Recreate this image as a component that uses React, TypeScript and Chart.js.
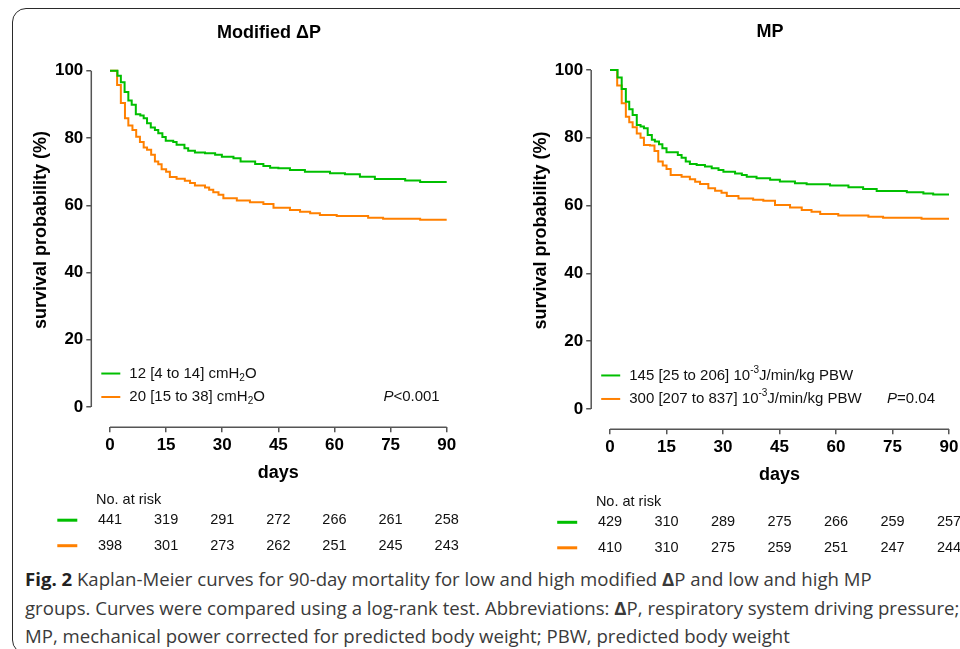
import React, { useEffect, useRef } from 'react';
import { Chart, registerables } from 'chart.js';

Chart.register(...registerables);

// ---------- data ----------
const riskDays = [0, 15, 30, 45, 60, 75, 90];
const yTickValues = [0, 20, 40, 60, 80, 100];

// Modified driving pressure, low group (green)
const dpLowDays = [0, 2, 2.9, 3.9, 4.9, 5.8, 6.9, 8.1, 9.0, 9.9, 10.9, 12.0, 12.9, 14.0, 14.9, 16.9, 17.8, 19.9, 20.9, 22.7, 25.4, 28.1, 29.9, 33.0, 34.9, 38.8, 41.0, 42.8, 45.0, 48.1, 52.1, 58.8, 62.8, 66.8, 70.8, 78.9, 82.9, 90];
const dpLowSurv = [100, 98.5, 96.6, 93.7, 91.2, 89.9, 87.1, 86.7, 85.9, 84.4, 83.1, 82.4, 81.4, 80.3, 79.2, 78.8, 78.0, 77.0, 76.2, 75.7, 75.5, 75.0, 74.4, 74.0, 73.0, 72.3, 71.7, 71.2, 71.0, 70.5, 70.0, 69.5, 69.2, 68.5, 67.8, 67.4, 66.9, 66.9];
// Modified driving pressure, high group (orange)
const dpHighDays = [0, 1.9, 2.9, 4.0, 4.9, 6.0, 7.0, 8.0, 9.0, 9.9, 11.0, 12.0, 12.9, 13.8, 15.0, 16.0, 17.8, 20.0, 21.4, 22.7, 25.4, 26.5, 27.6, 29.0, 30.3, 33.9, 37.4, 41.0, 43.7, 48.1, 50.8, 53.5, 56.1, 60.6, 69.0, 73.0, 82.9, 90];
const dpHighSurv = [100, 95.8, 90.4, 85.9, 83.7, 82.4, 80.4, 78.8, 77.2, 76.5, 75.0, 73.0, 72.2, 70.7, 70.0, 68.4, 67.9, 67.3, 66.6, 65.9, 65.3, 64.6, 63.9, 63.1, 62.1, 61.4, 60.9, 60.4, 59.3, 58.6, 58.1, 57.6, 57.1, 56.8, 56.3, 56.0, 55.7, 55.7];
// Mechanical power, low group (green)
const mpLowDays = [0, 2, 3.1, 4.2, 5.1, 6.0, 7.1, 8.1, 9.0, 10.0, 11.1, 11.9, 13.0, 13.9, 15.0, 18.0, 19.0, 20.1, 21.2, 23.0, 25.2, 27.0, 28.8, 30.1, 33.2, 35.0, 36.3, 38.9, 42.5, 45.1, 49.1, 52.2, 58.4, 63.3, 67.2, 70.8, 78.8, 83.2, 85.8, 90];
const mpLowSurv = [100, 97.8, 94.4, 90.6, 88.4, 86.7, 83.8, 83.3, 82.8, 80.8, 79.4, 78.9, 78.1, 76.9, 75.7, 74.9, 74.1, 73.0, 72.3, 72.0, 71.5, 71.0, 70.5, 70.0, 69.5, 69.0, 68.5, 68.1, 67.6, 67.1, 66.6, 66.3, 65.9, 65.4, 64.9, 64.3, 63.9, 63.6, 63.3, 63.3];
// Mechanical power, high group (orange)
const mpHighDays = [0, 1.9, 3.1, 4.2, 5.1, 6.0, 7.1, 8.1, 9.0, 10.6, 11.8, 12.8, 14.0, 15.0, 16.1, 19.0, 21.2, 22.6, 23.9, 26.1, 27.9, 29.6, 31.0, 34.1, 38.0, 40.7, 43.8, 47.8, 50.9, 53.5, 55.8, 60.6, 68.6, 72.5, 82.7, 90];
const mpHighSurv = [100, 95.4, 90.2, 86.2, 84.6, 83.1, 81.3, 80.0, 77.9, 77.7, 76.1, 73.0, 71.8, 70.8, 69.0, 68.5, 67.8, 67.0, 66.4, 65.1, 64.4, 63.8, 62.8, 62.1, 61.7, 61.4, 60.2, 59.4, 58.7, 58.2, 57.5, 57.1, 56.7, 56.4, 56.1, 56.1];

// numbers at risk
const dpRiskLow = [441, 319, 291, 272, 266, 261, 258];
const dpRiskHigh = [398, 301, 273, 262, 251, 245, 243];
const mpRiskLow = [429, 310, 289, 275, 266, 259, 257];
const mpRiskHigh = [410, 310, 275, 259, 251, 247, 244];

// legend labels (segments, with sub/superscripts)
const dpLegendLow = [{ t: '12 [4 to 14] cmH' }, { t: '2', sub: true }, { t: 'O' }];
const dpLegendHigh = [{ t: '20 [15 to 38] cmH' }, { t: '2', sub: true }, { t: 'O' }];
const mpLegendLow = [{ t: '145 [25 to 206] 10' }, { t: '-3', sup: true }, { t: 'J/min/kg PBW' }];
const mpLegendHigh = [{ t: '300 [207 to 837] 10' }, { t: '-3', sup: true }, { t: 'J/min/kg PBW' }];

const dpPValue = '<0.001';
const mpPValue = '=0.04';

// ---------- styles ----------
const GREEN = '#00bf00';
const ORANGE = '#ff8000';
const AXIS = '#555555';
const FONT = "'Liberation Sans', Arial, Helvetica, sans-serif";

function toPoints(days: number[], surv: number[]) {
  return days.map((d, i) => ({ x: d, y: surv[i] }));
}

function drawRich(ctx: any, parts: any[], x: number, y: number, size: number) {
  let cx = x;
  for (const p of parts) {
    if (p.sub || p.sup) {
      ctx.font = `${Math.round(size * 0.68)}px ${FONT}`;
      const dy = p.sub ? size * 0.3 : -size * 0.38;
      ctx.fillText(p.t, cx, y + dy);
      cx += ctx.measureText(p.t).width;
    } else {
      ctx.font = `${size}px ${FONT}`;
      ctx.fillText(p.t, cx, y);
      cx += ctx.measureText(p.t).width;
    }
  }
}

const panels = [
  {
    key: 'dp',
    title: 'Modified \u0394P',
    left: 12, top: 10, w: 460, h: 555,
    yWidth: 79.3, xHeight: 137.8, padRight: 25.3,
    titlePad: { top: 12, bottom: 27.2 },
    low: toPoints(dpLowDays, dpLowSurv),
    high: toPoints(dpHighDays, dpHighSurv),
    legend: [dpLegendLow, dpLegendHigh],
    p: dpPValue, pDx: -7,
    risk: [dpRiskLow, dpRiskHigh],
  },
  {
    key: 'mp',
    title: 'MP',
    left: 490, top: 10, w: 500, h: 555,
    yWidth: 101.2, xHeight: 135.7, padRight: 41,
    titlePad: { top: 11.5, bottom: 26.9 },
    low: toPoints(mpLowDays, mpLowSurv),
    high: toPoints(mpHighDays, mpHighSurv),
    legend: [mpLegendLow, mpLegendHigh],
    p: mpPValue, pDx: -14,
    risk: [mpRiskLow, mpRiskHigh],
  },
];

function Panel({ cfg }: { cfg: any }) {
  const ref = useRef<HTMLCanvasElement>(null);
  useEffect(() => {
    const canvas = ref.current as HTMLCanvasElement;
    const tickFont = { family: FONT, size: 17, weight: 'bold' as const };
    const decor = {
      id: 'decor',
      afterDraw(chart: any) {
        const ctx = chart.ctx;
        const xs = chart.scales.x;
        const ys = chart.scales.y;
        const ca = chart.chartArea;
        const x0 = xs.getPixelForValue(0);
        const x90 = xs.getPixelForValue(90);
        const y0 = ys.getPixelForValue(0);
        const y100 = ys.getPixelForValue(100);
        ctx.save();
        // axis lines (separated, Prism style)
        ctx.strokeStyle = AXIS;
        ctx.lineWidth = 1.5;
        ctx.beginPath();
        ctx.moveTo(ca.left, y100);
        ctx.lineTo(ca.left, y0);
        ctx.moveTo(x0, ca.bottom);
        ctx.lineTo(x90, ca.bottom);
        ctx.stroke();
        // axis titles
        ctx.fillStyle = '#000';
        ctx.font = `bold 18px ${FONT}`;
        ctx.textAlign = 'center';
        ctx.textBaseline = 'middle';
        ctx.save();
        ctx.translate(ca.left - 50, (y0 + y100) / 2 - 9);
        ctx.rotate(-Math.PI / 2);
        ctx.fillText('survival probability (%)', 0, 0);
        ctx.restore();
        ctx.fillText('days', (x0 + x90) / 2, ca.bottom + 46);
        // legend inside plot
        const colors = [GREEN, ORANGE];
        const rows = [y0 - 33.5, y0 - 10];
        ctx.textAlign = 'left';
        for (let i = 0; i < 2; i++) {
          ctx.strokeStyle = colors[i];
          ctx.lineWidth = 2;
          ctx.beginPath();
          ctx.moveTo(ca.left + 10, rows[i]);
          ctx.lineTo(ca.left + 29, rows[i]);
          ctx.stroke();
          ctx.fillStyle = '#111';
          drawRich(ctx, cfg.legend[i], ca.left + 38, rows[i], 15);
        }
        // P value
        ctx.font = `15px ${FONT}`;
        const restW = ctx.measureText(cfg.p).width;
        ctx.textAlign = 'right';
        ctx.fillText(cfg.p, x90 + cfg.pDx, rows[1]);
        ctx.font = `italic 15px ${FONT}`;
        ctx.fillText('P', x90 + cfg.pDx - restW, rows[1]);
        // numbers at risk
        ctx.textAlign = 'left';
        ctx.fillStyle = '#111';
        ctx.font = `14.5px ${FONT}`;
        ctx.fillText('No. at risk', ca.left + 4.7, ca.bottom + 72.5);
        const rrows = [ca.bottom + 93, ca.bottom + 118.5];
        for (let i = 0; i < 2; i++) {
          ctx.strokeStyle = colors[i];
          ctx.lineWidth = 3;
          ctx.beginPath();
          ctx.moveTo(ca.left - 34, rrows[i]);
          ctx.lineTo(ca.left - 14, rrows[i]);
          ctx.stroke();
          ctx.textAlign = 'center';
          ctx.fillStyle = '#111';
          cfg.risk[i].forEach((n: number, j: number) => {
            ctx.fillText(String(n), xs.getPixelForValue(riskDays[j]), rrows[i]);
          });
        }
        ctx.restore();
      },
    };
    const chart = new Chart(canvas, {
      type: 'line',
      data: {
        datasets: [
          { data: cfg.low, borderColor: GREEN, borderWidth: 2, pointRadius: 0, stepped: 'before', fill: false, clip: false },
          { data: cfg.high, borderColor: ORANGE, borderWidth: 2, pointRadius: 0, stepped: 'before', fill: false, clip: false },
        ],
      },
      options: {
        responsive: false,
        animation: false,
        events: [],
        layout: { padding: { top: 0, left: 0, bottom: 0, right: cfg.padRight } },
        plugins: {
          legend: { display: false },
          tooltip: { enabled: false },
          title: {
            display: true,
            text: cfg.title,
            fullSize: false,
            color: '#000',
            font: { family: FONT, size: 18, weight: 'bold' },
            padding: cfg.titlePad,
          },
        },
        scales: {
          x: {
            type: 'linear',
            min: -5,
            max: 90,
            bounds: 'data',
            afterBuildTicks: (s: any) => { s.ticks = riskDays.map((v) => ({ value: v })); },
            afterFit: (s: any) => { s.height = cfg.xHeight; },
            ticks: { autoSkip: false, maxRotation: 0, padding: 3, color: '#000', font: tickFont },
            grid: { drawOnChartArea: false, drawTicks: true, tickLength: 5, color: AXIS, lineWidth: 1.5 },
            border: { display: false },
          },
          y: {
            type: 'linear',
            min: -6,
            max: 100,
            bounds: 'data',
            afterBuildTicks: (s: any) => { s.ticks = yTickValues.map((v) => ({ value: v })); },
            afterFit: (s: any) => { s.width = cfg.yWidth; },
            ticks: { autoSkip: false, padding: 3, color: '#000', font: tickFont },
            grid: { drawOnChartArea: false, drawTicks: true, tickLength: 5, color: AXIS, lineWidth: 1.5 },
            border: { display: false },
          },
        },
      },
      plugins: [decor],
    } as any);
    return () => chart.destroy();
  }, [cfg]);
  return (
    <canvas
      ref={ref}
      width={cfg.w}
      height={cfg.h}
      style={{ position: 'absolute', left: cfg.left, top: cfg.top, width: cfg.w, height: cfg.h }}
    />
  );
}

export default function App() {
  return (
    <div style={{ position: 'fixed', left: 0, top: 0, width: 960, height: 649, overflow: 'hidden', background: '#fff' }}>
      <div
        style={{
          position: 'absolute', left: 12, top: 8, width: 1000, height: 646,
          border: '1.5px solid #2a2a2a', borderRadius: 14, boxSizing: 'border-box',
        }}
      />
      {panels.map((p) => <Panel key={p.key} cfg={p} />)}
      <div
        style={{
          position: 'absolute', left: 25, top: 565, whiteSpace: 'nowrap',
          fontFamily: "'Open Sans', 'Noto Sans', sans-serif", fontSize: 18.6, lineHeight: '28.5px', color: '#3a3a3a',
        }}
      >
        <div><b style={{ color: '#222' }}>Fig. 2</b> Kaplan-Meier curves for 90-day mortality for low and high modified <b>{'\u0394'}</b>P and low and high MP</div>
        <div>groups. Curves were compared using a log-rank test. Abbreviations: <b>{'\u0394'}</b>P, respiratory system driving pressure;</div>
        <div>MP, mechanical power corrected for predicted body weight; PBW, predicted body weight</div>
      </div>
    </div>
  );
}
